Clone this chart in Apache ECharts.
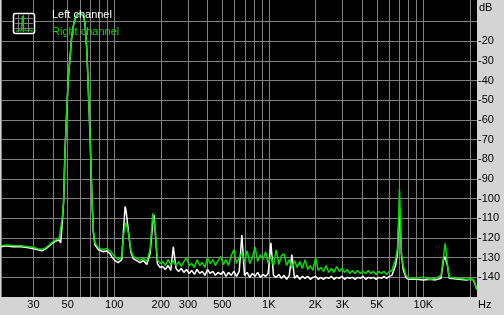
<!DOCTYPE html>
<html><head><meta charset="utf-8">
<script src="https://cdn.jsdelivr.net/npm/echarts@6/dist/echarts.min.js"></script>
<style>html,body{margin:0;padding:0;background:#d4d4d4}#c{width:504px;height:315px}</style>
</head><body><div id="c"></div>
<script>
// Frequencies (Hz) shared by both channels
const freqHz = [
  18.5, 20, 22, 25, 28, 30, 32, 34, 36, 38, 40, 42, 44, 45, 46.2, 47, 48, 49.3, 50.5, 51.8,
  53, 54.4, 55.8, 57.2, 60, 63, 64.7, 66.4, 68, 69, 70.5, 71.8, 73.2, 75, 79, 81, 85, 89.4, 93.9, 96.3,
  101, 106, 111.8, 114.5, 117.5, 119.2, 123.4, 127.9, 132.9, 139.8, 146.9, 154.3, 162.3, 170.4, 177.5, 180.9, 184.5,
  190, 198, 206, 214, 223, 232, 241, 251, 261, 271,
  282, 293, 305, 317, 330, 343, 357, 371, 386, 401,
  417, 434, 451, 469, 488, 508, 528, 549, 571, 594,
  618, 643, 669, 696, 724, 753, 783, 814, 847, 881,
  916, 953, 991, 1031, 1072, 1115, 1160, 1206, 1254, 1304,
  1356, 1410, 1466, 1525, 1586, 1649, 1715, 1784, 1855, 1929,
  2006, 2086, 2170, 2257, 2347, 2441, 2539, 2640, 2746, 2856,
  2970, 3089, 3212, 3341, 3474, 3613, 3758, 3908, 4064, 4227,
  4396, 4572, 4755, 4945, 5143, 5349, 5563, 5785, 6016, 6257,
  6400, 6600, 6800, 6900, 7000, 7100, 7200, 7400, 7700, 8000, 9000, 10000, 11000, 12000,
  13000, 13500, 13800, 14000, 14300, 14700, 15000, 17000, 19000, 20000, 21000, 21500, 22000, 22220
];
// Left channel (white), dB
const leftDb = [
  -124.5, -124, -124.5, -124.5, -125, -125.5, -126, -126.5, -125.5, -124, -122.5, -121.5, -121, -122.5, -111, -102, -76, -55, -38, -28,
  -18, -12, -8.5, -6.6, -5.7, -7, -11, -24, -45, -58, -80, -101, -117, -123.5, -126, -125.5, -127, -126.5, -128, -129.5,
  -131.5, -132.5, -131, -117, -104, -106, -116.5, -127, -130.5, -131.5, -132.5, -131.5, -133.5, -128, -112, -108.3, -118,
  -133, -135, -134.5, -136, -134, -136.5, -124.5, -135.5, -137, -135.5,
  -137.5, -136, -138, -136.5, -138.5, -136, -138, -137, -139, -136,
  -138, -137, -139, -137.5, -138.5, -137, -139.5, -137.5, -139, -137,
  -139.5, -137, -118.5, -139, -137.5, -140, -138, -139.5, -137.5, -140,
  -138.5, -139.5, -138, -122.5, -139, -140, -138.5, -140.5, -139, -141,
  -139, -128.5, -140.5, -139, -141, -139.5, -140.5, -139.5, -141, -140,
  -139.5, -141, -140, -141, -140, -140.5, -139.5, -141, -140, -140.5,
  -139.5, -141, -140, -140.5, -140, -141, -140, -140.5, -139.5, -141,
  -140, -140.5, -140, -141, -140, -140.5, -139.5, -140.5, -139.5, -139,
  -138, -134, -128, -115, -109, -113, -128, -136, -140, -141, -141, -141.3, -141, -141.3,
  -140.5, -131, -129.5, -130, -134, -140.5, -141, -141, -141.3, -141, -141.2, -143, -145.5, -146.5
];
// Right channel (green), dB
const rightDb = [
  -124, -123.5, -123.8, -124, -124.5, -124.8, -125.5, -125.8, -125, -123.5, -122, -121, -120, -121, -109, -101, -76, -55, -38, -28,
  -18, -12, -8.5, -6.6, -5.7, -7, -11, -24, -45, -58, -80, -101, -116, -122.5, -125, -124.4, -126, -125.3, -126.5, -127,
  -129.5, -131, -129.5, -119, -114, -112.2, -117.6, -126, -129.5, -130.3, -131.2, -130.3, -132, -126, -107.5, -106.6, -116,
  -131, -133, -132, -134, -131, -133.5, -131.5, -134, -132, -134.5,
  -132, -130, -134, -133, -135, -131, -134, -132.5, -135, -130,
  -133, -131, -134, -131.5, -129.5, -133.5, -131, -134, -129, -126,
  -133, -130, -127.5, -132, -126.5, -133, -130, -124.5, -132, -128.5,
  -131, -127, -133, -129, -134, -126, -133.5, -129, -128, -134,
  -131, -135.5, -131.5, -135, -132, -135.5, -131, -136, -134, -136.5,
  -130, -136.5, -135, -137, -134, -137.5, -135.5, -137.5, -134.5, -137,
  -135.5, -137.5, -136, -138, -136.5, -138, -136.5, -138, -137, -138,
  -136.5, -138, -137, -138.5, -137, -138, -137, -138.5, -137, -136.5,
  -134, -131, -125, -112, -95, -110, -127, -134, -139, -140.5, -140.5, -140, -141, -140.5,
  -139, -129.5, -122.7, -126, -133.5, -140, -140.8, -140.5, -141, -140.8, -141, -143, -145.5, -146.5
];
const xGridHz = [18.5, 30, 40, 50, 60, 70, 80, 90, 100, 200, 300, 400, 500, 600, 700, 800, 900,
  1000, 2000, 3000, 4000, 5000, 6000, 7000, 8000, 9000, 10000, 20000];
const xLabelHz = [30, 50, 100, 200, 300, 500, 1000, 2000, 3000, 5000, 10000];
const yGridDb = [-140, -130, -120, -110, -100, -90, -80, -70, -60, -50, -40, -30, -20, -10];
const yLabelDb = [-140, -130, -120, -110, -100, -90, -80, -70, -60, -50, -40, -30, -20];

const FONT = '"Liberation Sans", Arial, sans-serif';
const GREEN = '#00dc00';
const GRID = '#808080';

const chart = echarts.init(document.getElementById('c'), null, {renderer: 'canvas'});
chart.setOption({
  animation: false,
  backgroundColor: '#d4d4d4',
  textStyle: {fontFamily: FONT},
  grid: {left: 1, right: 27, top: 0, bottom: 18, show: true, backgroundColor: '#000', borderWidth: 0,
         containLabel: false, outerBoundsMode: 'none'},
  xAxis: {
    type: 'log', logBase: 10, min: 18.5, max: 22220,
    axisLine: {show: false},
    axisTick: {show: false, customValues: xGridHz},
    splitLine: {show: true, lineStyle: {color: GRID, width: 1}},
    axisLabel: {
      customValues: xLabelHz, color: '#000', fontSize: 11, margin: 2, fontFamily: FONT,
      formatter: v => v >= 1000 ? (v / 1000) + 'K' : String(v)
    }
  },
  yAxis: {
    type: 'value', position: 'right', min: -150, max: 1,
    axisLine: {show: false},
    axisTick: {show: false, customValues: yGridDb},
    splitLine: {show: true, lineStyle: {color: GRID, width: 1}},
    axisLabel: {customValues: yLabelDb, color: '#000', fontSize: 11, margin: 1, align: 'left', fontFamily: FONT}
  },
  legend: {
    orient: 'vertical', left: 42, top: 3, itemWidth: 0, itemHeight: 14, itemGap: 3,
    selectedMode: false, icon: 'rect',
    textStyle: {fontSize: 11, fontFamily: FONT},
    data: [
      {name: 'Left channel', textStyle: {color: '#ffffff'}},
      {name: 'Right channel', textStyle: {color: GREEN}}
    ]
  },
  graphic: [
    {type: 'rect', z: 100, shape: {x: 13.5, y: 13.5, width: 21, height: 20, r: 2},
     style: {fill: '#000', stroke: '#ffffff', lineWidth: 1.5}},
    {type: 'line', z: 101, shape: {x1: 18.5, y1: 15, x2: 18.5, y2: 32}, style: {stroke: GRID, lineWidth: 1}},
    {type: 'line', z: 101, shape: {x1: 23.5, y1: 15, x2: 23.5, y2: 32}, style: {stroke: GRID, lineWidth: 1}},
    {type: 'line', z: 101, shape: {x1: 28.5, y1: 15, x2: 28.5, y2: 32}, style: {stroke: GRID, lineWidth: 1}},
    {type: 'line', z: 101, shape: {x1: 15, y1: 18.5, x2: 33, y2: 18.5}, style: {stroke: GRID, lineWidth: 1}},
    {type: 'line', z: 101, shape: {x1: 15, y1: 23.5, x2: 33, y2: 23.5}, style: {stroke: GRID, lineWidth: 1}},
    {type: 'line', z: 101, shape: {x1: 15, y1: 28.5, x2: 33, y2: 28.5}, style: {stroke: GRID, lineWidth: 1}},
    {type: 'polyline', z: 102, shape: {points: [[15.5, 31], [18, 31], [19, 29.5], [20, 31], [21.5, 31], [22.3, 16], [23.2, 31], [25, 30], [27, 31], [29, 29.5], [31, 31], [33, 31]]},
     style: {stroke: GREEN, lineWidth: 1, fill: null}},
    {type: 'text', z: 100, left: 479, top: 2, style: {text: 'dB', fill: '#000', font: '11px ' + FONT}},
    {type: 'text', z: 100, left: 478, top: 299, style: {text: 'Hz', fill: '#000', font: '11px ' + FONT}}
  ],
  series: [
    {name: 'Left channel', type: 'line', showSymbol: false, symbol: 'none', color: '#ffffff',
     lineStyle: {color: '#ffffff', width: 1.5}, data: freqHz.map((f, i) => [f, leftDb[i]]), z: 2},
    {name: 'Right channel', type: 'line', showSymbol: false, symbol: 'none', color: GREEN,
     lineStyle: {color: GREEN, width: 1.5}, data: freqHz.map((f, i) => [f, rightDb[i]]), z: 3}
  ]
});
</script></body></html>
